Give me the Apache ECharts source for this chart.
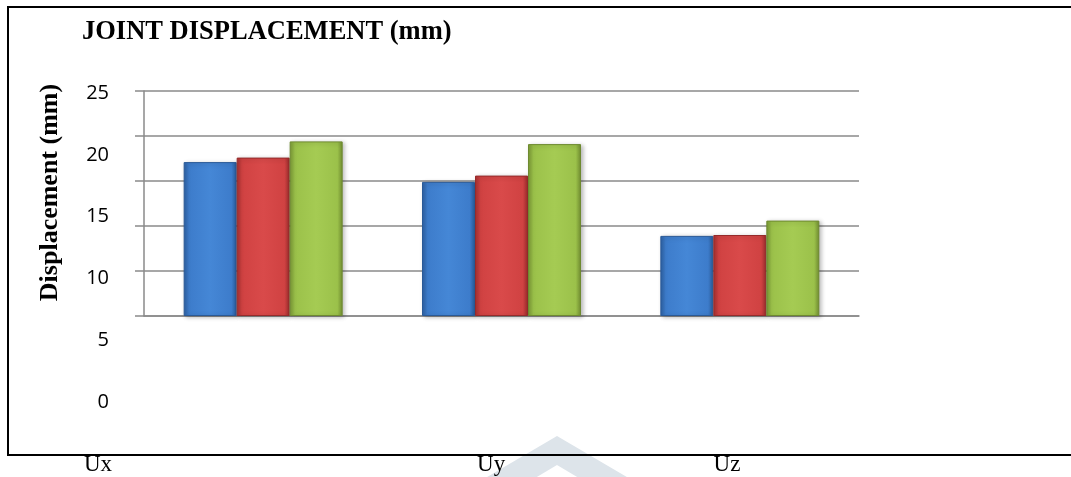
<!DOCTYPE html>
<html>
<head>
<meta charset="utf-8">
<script src="https://cdn.jsdelivr.net/npm/echarts@6/dist/echarts.min.js"></script>
<style>
html,body{margin:0;padding:0;background:#fff;}
#chart{width:1071px;height:477px;}
</style>
</head>
<body>
<div id="chart"></div>
<script>
// ---- data ----
var titleText = 'JOINT DISPLACEMENT (mm)';
var yAxisTitle = 'Displacement (mm)';
var categories = ['Ux', 'Uy', 'Uz'];
var seriesNames = ['Series 1', 'Series 2', 'Series 3'];
var blueValues  = [17.1, 14.9, 8.9];
var redValues   = [17.6, 15.6, 9.0];
var greenValues = [19.4, 19.1, 10.6];
var yMin = 0, yMax = 25, yStep = 5;
// bottom label slots (labels sit in uneven positions in the original)
var labelSlots = [0, 5, 8];
var slotCount = 9;

var bottomLabels = [];
for (var i = 0; i < slotCount; i++) bottomLabels.push('');
labelSlots.forEach(function (s, k) { bottomLabels[s] = categories[k]; });

function grad(c) {
  return new echarts.graphic.LinearGradient(0, 0, 1, 0, [
    {offset: 0, color: c[0]}, {offset: 0.1, color: c[1]},
    {offset: 0.5, color: c[2]}, {offset: 0.9, color: c[1]},
    {offset: 1, color: c[3]}
  ]);
}
var blueC  = ['#2d60a2', '#3d7ccb', '#4587d6', '#2a5a97'];
var redC   = ['#a53030', '#d04242', '#d94a4a', '#992c2c'];
var greenC = ['#7a9935', '#9bc14a', '#a5cb53', '#718d31'];

var chart = echarts.init(document.getElementById('chart'), null, {renderer: 'canvas'});
var gridColor = '#8a8a8a';

function barSeries(name, data, c, edge) {
  return {
    name: name, type: 'bar', xAxisIndex: 0, yAxisIndex: 0,
    data: data, barWidth: 53, barGap: '0%',
    itemStyle: {color: grad(c), borderColor: edge, borderWidth: 1,
      shadowColor: 'rgba(0,0,0,0.25)', shadowBlur: 4, shadowOffsetX: 2, shadowOffsetY: 1},
    emphasis: {disabled: true}
  };
}

chart.setOption({
  animation: false,
  backgroundColor: '#ffffff',
  title: {
    text: titleText, left: 82, top: 19, padding: 0,
    textStyle: {fontFamily: 'Liberation Serif', fontWeight: 'bold', fontSize: 26.5, color: '#000'}
  },
  graphic: [
    {type: 'polygon', z: -10, silent: true,
      shape: {points: [[557,436],[649,490],[599,490],[557,465],[515,490],[465,490]]},
      style: {fill: '#dde4ea'}},
    {type: 'rect', z: 100, silent: true,
      shape: {x: 8, y: 7, width: 1075, height: 448},
      style: {fill: 'none', stroke: '#000', lineWidth: 2}}
  ],
  grid: [
    {left: 144, right: 212, top: 91, bottom: 161, outerBoundsMode: 'none', containLabel: false},
    {left: 117, right: 900, top: 93, bottom: 75, outerBoundsMode: 'none', containLabel: false},
    {left: 98, right: 344, top: 82, bottom: 174, outerBoundsMode: 'none', containLabel: false}
  ],
  xAxis: [
    {type: 'category', gridIndex: 0, data: categories,
      axisLine: {show: true, lineStyle: {color: gridColor, width: 1.5}},
      axisTick: {show: false}, axisLabel: {show: false}, splitLine: {show: false}},
    {type: 'category', gridIndex: 1, data: [''], show: false},
    {type: 'category', gridIndex: 2, data: bottomLabels, boundaryGap: false,
      axisLine: {show: false}, axisTick: {show: false}, splitLine: {show: false},
      axisLabel: {show: true, interval: 0, margin: 150,
        fontFamily: 'Liberation Serif', fontSize: 23, color: '#000'}}
  ],
  yAxis: [
    {type: 'value', gridIndex: 0, min: yMin, max: yMax, interval: yStep,
      axisLine: {show: true, lineStyle: {color: gridColor, width: 1.5}},
      axisTick: {show: true, inside: false, length: 9, lineStyle: {color: gridColor, width: 1.5}},
      axisLabel: {show: false},
      splitLine: {show: true, lineStyle: {color: gridColor, width: 1.5}}},
    {type: 'value', gridIndex: 1, min: yMin, max: yMax, interval: yStep,
      axisLine: {show: false}, axisTick: {show: false}, splitLine: {show: false},
      axisLabel: {show: true, margin: 8, fontFamily: 'Open Sans', fontSize: 20, color: '#000'}},
    {type: 'value', gridIndex: 2, min: 0, max: 1,
      axisLine: {show: false}, axisTick: {show: false}, splitLine: {show: false},
      axisLabel: {show: false},
      name: yAxisTitle, nameLocation: 'middle', nameRotate: 90, nameGap: 35,
      nameTextStyle: {fontFamily: 'Liberation Serif', fontWeight: 'bold', fontSize: 26, color: '#000'}}
  ],
  series: [
    barSeries(seriesNames[0], blueValues, blueC, '#2a5a97'),
    barSeries(seriesNames[1], redValues, redC, '#962b2b'),
    barSeries(seriesNames[2], greenValues, greenC, '#6e8a30')
  ]
});
</script>
</body>
</html>
